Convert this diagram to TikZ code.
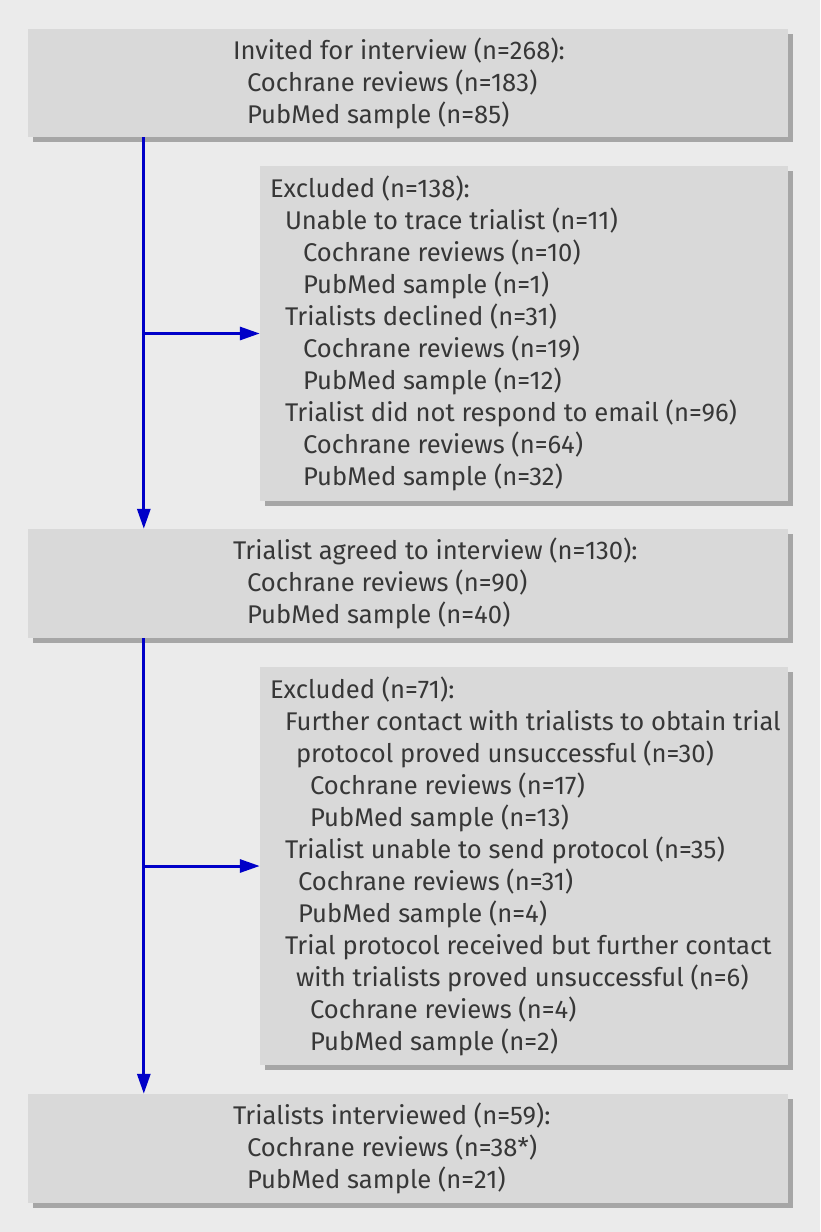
\documentclass[tikz,border=0pt]{standalone}
\usepackage{fontspec}
\setmainfont{Fira Sans}
\usetikzlibrary{arrows.meta,positioning,calc,shadows}
\definecolor{pagegray}{RGB}{235,235,235}
\definecolor{boxgray}{RGB}{217,217,217}
\definecolor{shadegray}{RGB}{166,166,166}
\definecolor{textgray}{RGB}{55,55,55}
\definecolor{flowblue}{RGB}{0,0,200}

\tikzset{
  flowbox/.style={rectangle, fill=boxgray, inner sep=0pt,
    drop shadow={shadow xshift=5pt, shadow yshift=-5pt, fill=shadegray, opacity=1}},
  mainbox/.style={flowbox, minimum width=760pt, minimum height=108pt},
  exclbox/.style={flowbox, minimum width=528pt},
  boxtext/.style={anchor=west, align=left, inner sep=0pt, text=textgray,
    font=\fontsize{25.6}{32}\selectfont},
  flowarrow/.style={draw=flowblue, line width=3pt,
    -{Triangle[length=20pt,width=13pt]}}
}

\begin{document}
\begin{tikzpicture}[x=1pt,y=-1pt]
  \fill[pagegray] (0,0) rectangle (820,1232);

  % boxes
  \node[mainbox] (invited) at (408,83) {};
  \node[exclbox, minimum height=335pt] (excl1) at (524,333.5) {};
  \node[mainbox, minimum height=109pt] (agreed) at (408,583.5) {};
  \node[exclbox, minimum height=398pt] (excl2) at (524,866) {};
  \node[mainbox, minimum height=109pt] (interviewed) at (408,1148.5) {};

  % texts
  \node[boxtext] (invitedtxt) at ([xshift=205pt]invited.west)
    {Invited for interview (n=268):\\
     \hspace*{14pt}Cochrane reviews (n=183)\\
     \hspace*{14pt}PubMed sample (n=85)};
  \node[boxtext] (excl1txt) at ([xshift=10pt]excl1.west)
    {Excluded (n=138):\\
     \hspace*{15pt}Unable to trace trialist (n=11)\\
     \hspace*{33pt}Cochrane reviews (n=10)\\
     \hspace*{33pt}PubMed sample (n=1)\\
     \hspace*{15pt}Trialists declined (n=31)\\
     \hspace*{33pt}Cochrane reviews (n=19)\\
     \hspace*{33pt}PubMed sample (n=12)\\
     \hspace*{15pt}Trialist did not respond to email (n=96)\\
     \hspace*{33pt}Cochrane reviews (n=64)\\
     \hspace*{33pt}PubMed sample (n=32)};
  \node[boxtext] (agreedtxt) at ([xshift=205pt]agreed.west)
    {Trialist agreed to interview (n=130):\\
     \hspace*{14pt}Cochrane reviews (n=90)\\
     \hspace*{14pt}PubMed sample (n=40)};
  \node[boxtext] (excl2txt) at ([xshift=10pt]excl2.west)
    {Excluded (n=71):\\
     \hspace*{15pt}Further contact with trialists to obtain trial\\
     \hspace*{26pt}protocol proved unsuccessful (n=30)\\
     \hspace*{40pt}Cochrane reviews (n=17)\\
     \hspace*{40pt}PubMed sample (n=13)\\
     \hspace*{15pt}Trialist unable to send protocol (n=35)\\
     \hspace*{28pt}Cochrane reviews (n=31)\\
     \hspace*{28pt}PubMed sample (n=4)\\
     \hspace*{15pt}Trial protocol received but further contact\\
     \hspace*{26pt}with trialists proved unsuccessful (n=6)\\
     \hspace*{40pt}Cochrane reviews (n=4)\\
     \hspace*{40pt}PubMed sample (n=2)};
  \node[boxtext] (interviewedtxt) at ([xshift=205pt]interviewed.west)
    {Trialists interviewed (n=59):\\
     \hspace*{14pt}Cochrane reviews (n=38*)\\
     \hspace*{14pt}PubMed sample (n=21)};

  % arrows
  \coordinate (spine1) at ([xshift=116pt]invited.south west);
  \coordinate (spine2) at ([xshift=116pt]agreed.south west);
  \draw[flowarrow] (spine1) -- (spine1 |- agreed.north);
  \draw[flowarrow] (spine1 |- excl1.west) -- (excl1.west);
  \draw[flowarrow] (spine2) -- (spine2 |- interviewed.north);
  \draw[flowarrow] (spine2 |- excl2.west) -- (excl2.west);
\end{tikzpicture}
\end{document}
